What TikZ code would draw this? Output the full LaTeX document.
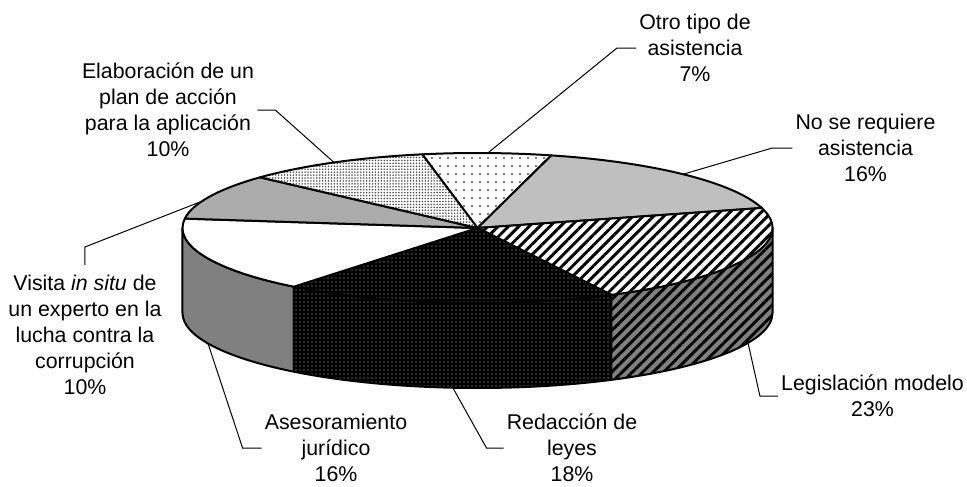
\documentclass[tikz,border=0pt]{standalone}
\usepackage{fontspec}
\setmainfont{Liberation Sans}
\usepackage{tikz}
\usetikzlibrary{patterns.meta, calc, positioning}

\tikzset{
  rim/.style={draw=black, line width=1.5pt, line join=round},
  leader/.style={draw=black, line width=0.75pt},
  lbl/.style={align=center, inner sep=2.25pt, font=\fontsize{16}{19.6}\selectfont},
  sparsedots/.style={preaction={fill=white}, pattern={Dots[distance=6pt, radius=0.6pt]}, pattern color=black},
  finedots/.style={preaction={fill=white}, pattern={Dots[distance=2.2pt, radius=0.65pt]}, pattern color=black!70},
  hatchtop/.style={preaction={fill=white}, pattern={Lines[angle=45, distance=5.5pt, line width=2.2pt]}, pattern color=black},
  hatchside/.style={preaction={fill=black!50}, pattern={Lines[angle=45, distance=5.5pt, line width=2.2pt]}, pattern color=black},
  darkdots/.style={preaction={fill=black}, pattern={Dots[distance=3pt, radius=0.55pt]}, pattern color=black!25}
}

\begin{document}
\begin{tikzpicture}[x=0.75pt, y=0.75pt]
                        \useasboundingbox (-477.5, -258) rectangle (489.5, 228);
                        % side of the cake
                        \path[rim, fill=black!50] (180:295 and 75) arc (180:231.5:295 and 75) -- ++(0, -85) arc (231.5:180:295 and 75) -- cycle;
                        \path[rim, darkdots] (231.5:295 and 75) arc (231.5:297:295 and 75) -- ++(0, -85) arc (297:231.5:295 and 75) -- cycle;
                        \path[rim, hatchside] (297:295 and 75) arc (297:360:295 and 75) -- ++(0, -85) arc (360:297:295 and 75) -- cycle;
                        % top slices
                        \path[rim, sparsedots] (0, 0) -- (100.8:295 and 75) arc (100.8:75.5:295 and 75) -- cycle;
                        \path[rim, fill=black!25] (0, 0) -- (75.5:295 and 75) arc (75.5:15.5:295 and 75) -- cycle;
                        \path[rim, hatchtop] (0, 0) -- (15.5:295 and 75) arc (15.5:-63:295 and 75) -- cycle;
                        \path[rim, darkdots] (0, 0) -- (-63:295 and 75) arc (-63:-128.5:295 and 75) -- cycle;
                        \path[rim, fill=white] (0, 0) -- (-128.5:295 and 75) arc (-128.5:-187.2:295 and 75) -- cycle;
                        \path[rim, fill=black!33] (0, 0) -- (172.8:295 and 75) arc (172.8:137.5:295 and 75) -- cycle;
                        \path[rim, finedots] (0, 0) -- (137.5:295 and 75) arc (137.5:100.8:295 and 75) -- cycle;

                        \coordinate (otro-rim) at (88:295 and 75);
                        \coordinate (nose-rim) at (45.8:295 and 75);
                        \coordinate (legis-rim) at ($(-23.5:295 and 75) + (0, -85)$);
                        \coordinate (redac-rim) at ($(-94.8:295 and 75) + (0, -85)$);
                        \coordinate (aseso-rim) at ($(-156:295 and 75) + (0, -85)$);
                        \coordinate (visita-rim) at (159.1:295 and 75);
                        \coordinate (elab-rim) at (119.1:295 and 75);

                        \node[lbl] (otro) at (217.5, 180) {Otro tipo de\\asistencia\\7\%};
                        \node[lbl] (nose) at (388, 80) {No se requiere\\asistencia\\16\%};
                        \node[lbl] (legis) at (395, -168) {Legislación modelo\\23\%};
                        \node[lbl] (redac) at (94.5, -220) {Redacción de\\leyes\\18\%};
                        \node[lbl] (aseso) at (-141.5, -220) {Asesoramiento\\jurídico\\16\%};
                        \node[lbl] (visita) at (-392.5, -107) {Visita \textit{in situ} de\\un experto en la\\lucha contra la\\corrupción\\10\%};
                        \node[lbl] (elab) at (-309.5, 118) {Elaboración de un\\plan de acción\\para la aplicación\\10\%};

                        \draw[leader] (otro.west) -- ++(-19, 0) -- (otro-rim);
                        \draw[leader] (nose.west) -- ++(-20, 0) -- (nose-rim);
                        \draw[leader] (legis.west) -- ++(-18, 0) -- (legis-rim);
                        \draw[leader] (redac.west) -- ++(-17, 0) -- (redac-rim);
                        \draw[leader] (aseso.west) -- ++(-19, 0) -- (aseso-rim);
                        \draw[leader] ([yshift=5pt]visita.north) -- ++(0, 18) -- (visita-rim);
                        \draw[leader] (elab.east) -- ++(18, 0) -- (elab-rim);
                    \end{tikzpicture}
\end{document}
